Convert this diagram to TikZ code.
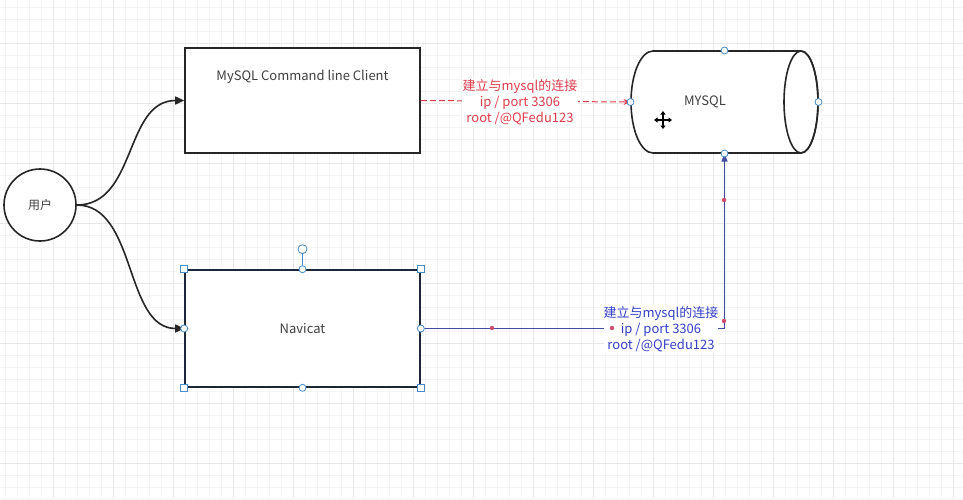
\documentclass[tikz,border=0pt]{standalone}
\usepackage{fontspec}
\setmainfont{Noto Sans CJK SC}
\usetikzlibrary{arrows.meta}

\definecolor{gridminor}{RGB}{244,244,244}
\definecolor{gridmajor}{RGB}{232,232,232}
\definecolor{linkred}{RGB}{222,62,76}
\definecolor{linkblue}{RGB}{52,64,196}
\definecolor{wireblue}{RGB}{66,78,164}
\definecolor{handleblue}{RGB}{70,140,200}
\definecolor{dotred}{RGB}{204,78,110}
\definecolor{boxnavy}{RGB}{28,40,58}

\tikzset{
  shapebox/.style = {draw=black!85, line width=1.6pt, fill=white, rectangle},
  txt/.style = {font=\fontsize{13}{16}\selectfont, text=black!75},
  linklabel/.style = {font=\fontsize{13}{16}\selectfont, align=center, fill=white,
                      inner sep=1pt},
  handle/.style = {draw=handleblue, fill=white, line width=0.8pt},
  waydot/.style = {fill=dotred},
}

\begin{document}
\begin{tikzpicture}[x=1pt, y=1pt, line width=1pt]
    \useasboundingbox (0, 0) rectangle (963, -499);
    \fill[white] (0, 0) rectangle (963, -499);

    % draw background grid
    \foreach \gx in {5, 17, ..., 963} {
      \draw[gridminor, line width=0.5pt] (\gx, 0) -- (\gx, -499);
    }
    \foreach \gy in {-7, -19, ..., -499} {
      \draw[gridminor, line width=0.5pt] (0, \gy) -- (963, \gy);
    }
    \foreach \gx in {53, 113, ..., 963} {
      \draw[gridmajor, line width=0.7pt] (\gx, 0) -- (\gx, -499);
    }
    \foreach \gy in {-43, -103, ..., -499} {
      \draw[gridmajor, line width=0.7pt] (0, \gy) -- (963, \gy);
    }

    % draw user circle and the two boxes
    \node[draw=black!85, line width=1.6pt, fill=white, circle, minimum size=72pt,
          txt, font=\fontsize{12}{14}\selectfont] (user) at (40, -205) {用户};
    \node[shapebox, minimum width=235pt, minimum height=105pt] (client) at (302.5, -100.5) {};
    \node[txt] (clienttext) at ([yshift=-30pt]client.north) {MySQL Command line Client};
    \node[shapebox, draw=boxnavy, minimum width=235pt, minimum height=117pt] (navicat)
      at (302.5, -328.5) {};
    \node[txt] (navicattext) at (navicat.center) {Navicat};

    % draw cylinder
    \node[minimum width=187pt, minimum height=102pt, inner sep=0pt] (mysql) at (724.5, -102) {};
    \filldraw[draw=black!85, fill=white, line width=1.6pt]
      (801, -51) -- (653, -51) arc [start angle = 90, end angle = 270, x radius = 22, y radius = 51]
        -- (801, -153) arc [start angle = 270, end angle = 450, x radius = 17, y radius = 51];
    \draw[black!85, line width=1.6pt] (801, -102) ellipse [x radius = 17, y radius = 51];
    \node[txt] (mysqltext) at (705, -102) {MYSQL};

    % draw move cursor
    \coordinate (cursor) at (663, -120);
    \foreach \ang in {0, 90, 180, 270} {
      \draw[black, line width=1.2pt, -{Triangle[length=3.5pt, width=5pt]}]
        (cursor) -- ++(\ang : 9);
    }

    % draw curved arrows from user
    \draw[black!85, line width=1.6pt, -{Triangle[length=9pt, width=8pt]}]
      (user.east) .. controls +(60, 0) and +(-60, 0) .. (client.west);
    \draw[black!85, line width=1.6pt, -{Triangle[length=9pt, width=8pt]}]
      (user.east) .. controls +(60, 0) and +(-60, 0) .. (navicat.west);

    % draw red dashed link
    \draw[linkred, dash pattern=on 6pt off 3pt, -{Stealth[length=7pt, width=6pt]}]
      (client.east) -- (mysql.west);
    \node[linklabel, text=linkred] (clientlink) at (520, -102)
      {建立与mysql的连接\\ip / port 3306\\root /@QFedu123};

    % draw blue link
    \draw[wireblue, -{Triangle[length=8pt, width=6pt]}]
      (navicat.east) -| (mysql.south);
    \node[linklabel, text=linkblue, inner xsep=0pt] (navlink) at (661, -329)
      {建立与mysql的连接\\ip / port 3306\\root /@QFedu123};
    \foreach \wx/\wy in {492/-328, 612/-328, 724/-200, 724/-321} {
      \fill[waydot] (\wx, \wy) circle (2.2);
    }

    % draw connection handles
    \foreach \hp in {mysql.west, mysql.east, mysql.north, mysql.south} {
      \filldraw[handle] (\hp) circle (3.5);
    }
    \draw[handleblue, line width=0.8pt] (navicat.north) -- ++(0, 16);
    \filldraw[handle] ([yshift=20pt]navicat.north) circle (4.5);
    \foreach \hp in {navicat.north, navicat.south, navicat.west, navicat.east} {
      \filldraw[handle] (\hp) circle (3.5);
    }
    \foreach \hp in {navicat.north west, navicat.north east, navicat.south west, navicat.south east} {
      \filldraw[handle] ([shift={(-3.5, -3.5)}]\hp) rectangle ++(7, 7);
    }
\end{tikzpicture}
\end{document}
